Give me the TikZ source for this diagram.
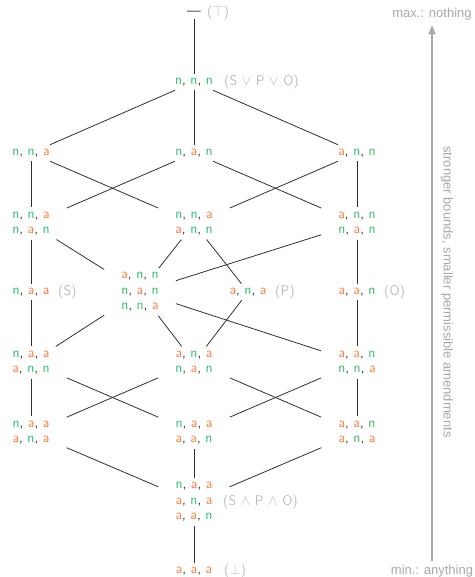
\documentclass[tikz,border=0pt]{standalone}
\usepackage{fontspec}
\usepackage{amsmath}
\usepackage{tikz}
\usetikzlibrary{positioning,arrows.meta}
\newfontfamily\sidefont{Liberation Sans}
\definecolor{nval}{HTML}{2DBE6C}
\definecolor{aval}{HTML}{FF7F40}
\definecolor{lbl}{HTML}{BDBDBD}
\definecolor{side}{HTML}{A8A8A8}
\definecolor{edge}{HTML}{303030}
\newcommand{\valN}{\textcolor{nval}{n}}
\newcommand{\valA}{\textcolor{aval}{a}}

\begin{document}
\begin{tikzpicture}[
  x=1pt,y=-1pt,
  elem/.style={inner xsep=17pt,inner ysep=4pt,align=center,text=edge,
               font=\sffamily\fontsize{14}{15.5}\selectfont},
  tag/.style={inner sep=0pt,anchor=west,text=lbl,font=\sffamily\fontsize{14}{16}\selectfont},
  link/.style={draw=edge,line width=0.8pt},
  note/.style={inner sep=2pt,text=side,font=\sidefont\fontsize{13}{15}\selectfont}
]
  \useasboundingbox (0,0) rectangle (474,577);

  \node[elem] (top)  at (194,13)  {---};
  \node[elem] (join) at (194,82)  {\valN, \valN, \valN};
  \node[elem] (r2w) at (31,153)  {\valN, \valN, \valA};
  \node[elem] (r2c) at (194,153) {\valN, \valA, \valN};
  \node[elem] (r2e) at (357,153) {\valA, \valN, \valN};
  \node[elem] (r3w) at (31,223.5)  {\valN, \valN, \valA\\\valN, \valA, \valN};
  \node[elem] (r3c) at (194,223.5) {\valN, \valN, \valA\\\valA, \valN, \valN};
  \node[elem] (r3e) at (357,223.5) {\valA, \valN, \valN\\\valN, \valA, \valN};
  \node[elem] (r4s) at (31,292)  {\valN, \valA, \valA};
  \node[elem] (r4h) at (140,292) {\valA, \valN, \valN\\\valN, \valA, \valN\\\valN, \valN, \valA};
  \node[elem] (r4p) at (248,292) {\valA, \valN, \valA};
  \node[elem] (r4o) at (357,292) {\valA, \valA, \valN};
  \node[elem] (r5w) at (31,362.5)  {\valN, \valA, \valA\\\valA, \valN, \valN};
  \node[elem] (r5c) at (194,362.5) {\valA, \valN, \valA\\\valN, \valA, \valN};
  \node[elem] (r5e) at (357,362.5) {\valA, \valA, \valN\\\valN, \valN, \valA};
  \node[elem] (r6w) at (31,432.5)  {\valN, \valA, \valA\\\valA, \valN, \valA};
  \node[elem] (r6c) at (194,432.5) {\valN, \valA, \valA\\\valA, \valA, \valN};
  \node[elem] (r6e) at (357,432.5) {\valA, \valA, \valN\\\valA, \valN, \valA};
  \node[elem] (meet) at (194,502) {\valN, \valA, \valA\\\valA, \valN, \valA\\\valA, \valA, \valN};
  \node[elem] (bot)  at (194,571) {\valA, \valA, \valA};

  \node[tag] (toplbl)  at (207,13)  {($\top$)};
  \node[tag] (joinlbl) at (224,82)  {(S $\vee$ P $\vee$ O)};
  \node[tag] (slbl)    at (58,292)  {(S)};
  \node[tag] (plbl)    at (275,292) {(P)};
  \node[tag] (olbl)    at (384,292) {(O)};
  \node[tag] (meetlbl) at (223,502) {(S $\wedge$ P $\wedge$ O)};
  \node[tag] (botlbl)  at (224,571) {($\bot$)};

  \draw[link] (top) -- (join);
  \draw[link] (join) -- (r2w);  \draw[link] (join) -- (r2c);  \draw[link] (join) -- (r2e);
  \draw[link] (r2w) -- (r3w);   \draw[link] (r2w) -- (r3c);
  \draw[link] (r2c) -- (r3w);   \draw[link] (r2c) -- (r3e);
  \draw[link] (r2e) -- (r3c);   \draw[link] (r2e) -- (r3e);
  \draw[link] (r3w) -- (r4s);   \draw[link] (r3w) -- (r4h);
  \draw[link] (r3c) -- (r4h);   \draw[link] (r3c) -- (r4p);
  \draw[link] (r3e) -- (r4h);   \draw[link] (r3e) -- (r4o);
  \draw[link] (r4s) -- (r5w);   \draw[link] (r4h) -- (r5w);
  \draw[link] (r4h) -- (r5c);   \draw[link] (r4h) -- (r5e);
  \draw[link] (r4p) -- (r5c);   \draw[link] (r4o) -- (r5e);
  \draw[link] (r5w) -- (r6w);   \draw[link] (r5w) -- (r6c);
  \draw[link] (r5c) -- (r6w);   \draw[link] (r5c) -- (r6e);
  \draw[link] (r5e) -- (r6c);   \draw[link] (r5e) -- (r6e);
  \draw[link] (r6w) -- (meet);  \draw[link] (r6c) -- (meet);  \draw[link] (r6e) -- (meet);
  \draw[link] (meet) -- (bot);

  \node[note] (maxnote) at (432,14)  {max.: nothing};
  \node[note] (minnote) at (432,571) {min.: anything};
  \draw[-{Triangle[length=9pt,width=7pt]},draw=side,fill=side,line width=1.3pt,
        shorten <=2pt,shorten >=3pt] (minnote) -- (maxnote);
  \node[note,rotate=-90] (dirnote) at (447,292)
        {stronger bounds, smaller permissible amendments};
\end{tikzpicture}
\end{document}
